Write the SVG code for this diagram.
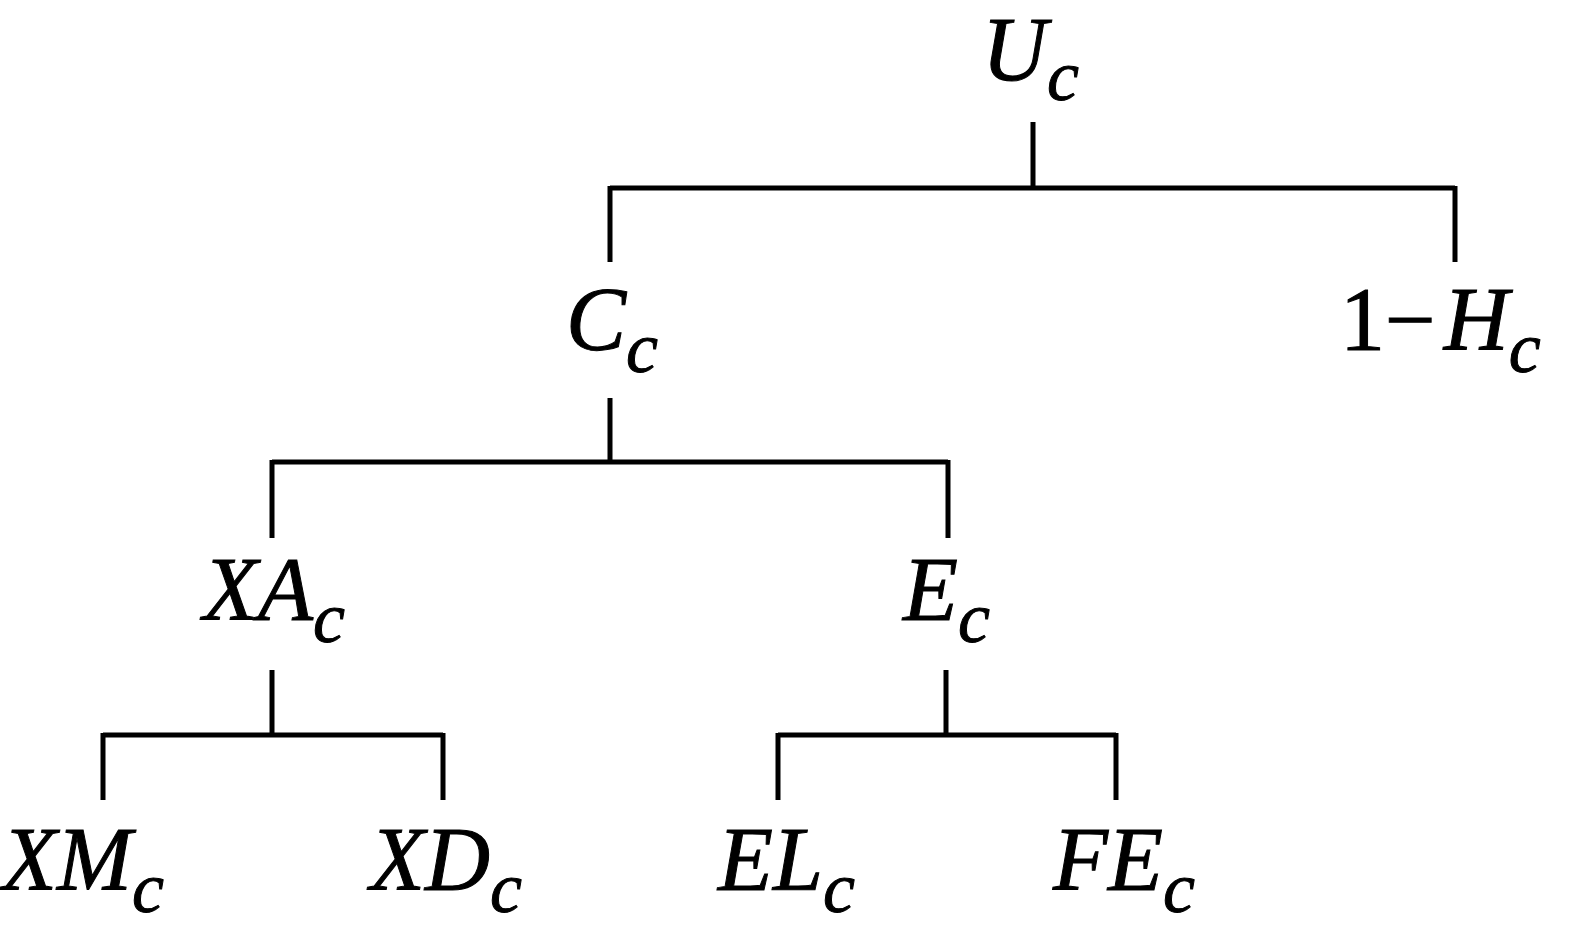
<svg xmlns="http://www.w3.org/2000/svg" width="1582" height="941" viewBox="0 0 1582 941">
<style>
.t{font-family:"Liberation Serif",serif;font-style:italic;font-size:90px;fill:#000;stroke:#000;stroke-width:1}
.s{font-size:72px}
.n{font-style:normal}
.c{stroke:#000;stroke-width:5;fill:none}
</style>
<rect width="1582" height="941" fill="#fff"/>
<g id="connectors" class="c">
<path d="M1033 122V188M610 188H1455M610 186V262M1455 186V262"/>
<path d="M610 398V462M272 462H948M272 460V538M948 460V538"/>
<path d="M272 670V735M103 735H443M103 733V800M443 733V800"/>
<path d="M946 670V735M778 735H1116M778 733V800M1116 733V800"/>
</g>
<g id="U"><text class="t" x="982" y="80">U<tspan class="s" dy="20">c</tspan></text></g>
<g id="C"><text class="t" x="566" y="350">C<tspan class="s" dy="22">c</tspan></text></g>
<g id="H"><text class="t" x="1340" y="350"><tspan class="n">1−</tspan><tspan dx="8">H</tspan><tspan class="s" dy="22">c</tspan></text></g>
<g id="XA"><text class="t" x="203" y="620">XA<tspan class="s" dy="22">c</tspan></text></g>
<g id="E"><text class="t" x="903" y="620">E<tspan class="s" dy="22">c</tspan></text></g>
<g id="XM"><text class="t" x="2" y="890">XM<tspan class="s" dy="22">c</tspan></text></g>
<g id="XD"><text class="t" x="370" y="890">XD<tspan class="s" dy="22">c</tspan></text></g>
<g id="EL"><text class="t" x="718" y="890">EL<tspan class="s" dy="22">c</tspan></text></g>
<g id="FE"><text class="t" x="1053" y="890">FE<tspan class="s" dy="22">c</tspan></text></g>
</svg>
